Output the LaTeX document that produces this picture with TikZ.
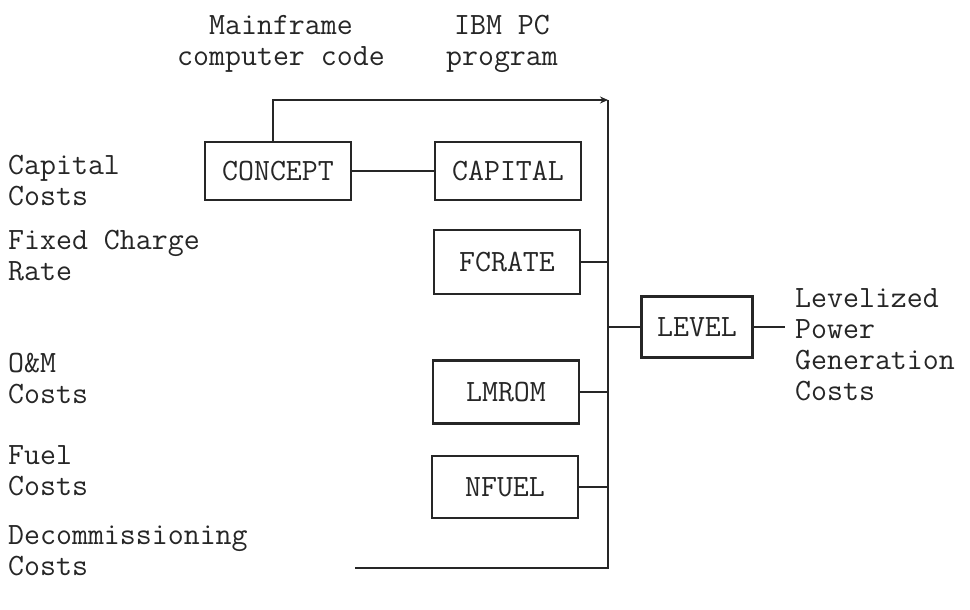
\documentclass[tikz,border=0pt]{standalone}
\usetikzlibrary{arrows.meta}
\begin{document}
\begin{tikzpicture}[x=1pt,y=-1pt,
  every node/.style={font=\ttfamily\fontsize{31}{31}\selectfont, text=black!85},
  prog/.style={draw=black!85, line width=2.8pt, minimum width=146pt,
    minimum height=58pt, inner sep=0pt},
  wire/.style={draw=black!85, line width=2.8pt},
  lbl/.style={align=left, anchor=base west, inner sep=0pt},
  head/.style={align=center, anchor=base, inner sep=0pt}]
\useasboundingbox (0,0) rectangle (970,610);

% column headings (anchored at the baseline of the last line)
\node[head] (hmain) at (281,66) {Mainframe\\computer code};
\node[head] (hpc) at (502,66) {IBM PC\\program};

% program boxes
\node[prog] (concept) at (278,171) {CONCEPT};
\node[prog] (capital) at (508,171) {CAPITAL};
\node[prog, minimum height=64pt] (fcrate) at (507,262) {FCRATE};
\node[prog, minimum height=63pt] (lmrom) at (506,392) {LMROM};
\node[prog, minimum height=62pt] (nfuel) at (505,487) {NFUEL};
\node[prog, minimum width=111pt, minimum height=61pt] (level) at (697,327) {LEVEL};

% collecting bus
\coordinate (bt) at (608,100);
\coordinate (bb) at (608,568);
\coordinate (dstart) at (355,568);
\coordinate (out) at (785,327);

\draw[wire, -{Stealth[length=8pt,width=7pt]}] ([xshift=-5pt]concept.north) |- (bt);
\draw[wire] (dstart) -- (bb) -- (bt);
\draw[wire] (concept.east) -- (capital.west);
\draw[wire] (fcrate.east) -- (fcrate.east -| bt);
\draw[wire] (lmrom.east) -- (lmrom.east -| bt);
\draw[wire] (nfuel.east) -- (nfuel.east -| bt);
\draw[wire] (level.west -| bt) -- (level.west);
\draw[wire] (level.east) -- (out);

% cost inputs
\node[lbl] (lcap) at (8,205) {Capital\\Costs};
\node[lbl] (lfcr) at (8,280) {Fixed Charge\\Rate};
\node[lbl] (lom) at (8,403) {O\&M\\Costs};
\node[lbl] (lfuel) at (8,495) {Fuel\\Costs};
\node[lbl] (ldec) at (8,575) {Decommissioning\\Costs};

% result
\node[lbl] (lres) at (795,400) {Levelized\\Power\\Generation\\Costs};
\end{tikzpicture}
\end{document}
